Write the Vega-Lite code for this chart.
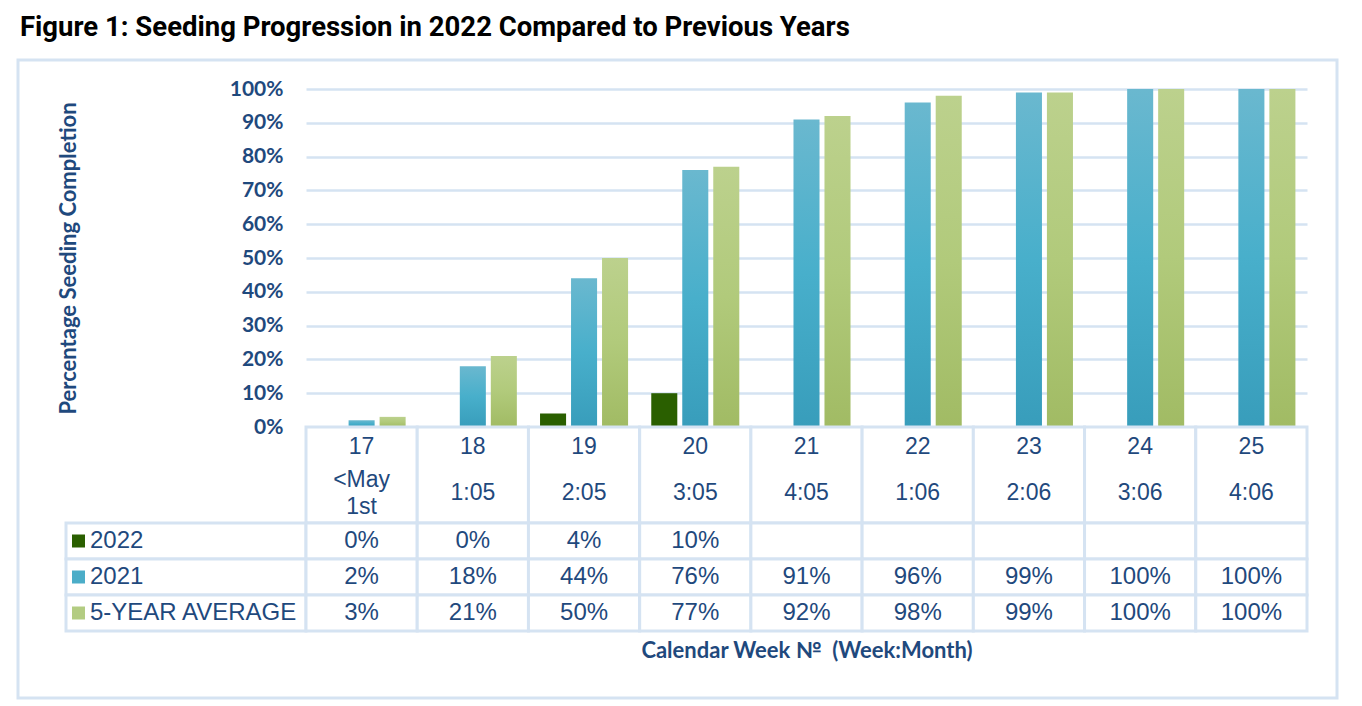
{
  "$schema": "https://vega.github.io/schema/vega-lite/v6.json",
  "background": "white",
  "padding": {"left": 18, "top": 13, "right": 10, "bottom": 5},
  "title": {
    "text": "Figure 1: Seeding Progression in 2022 Compared to Previous Years",
    "anchor": "start",
    "frame": "group",
    "dx": -46,
    "offset": 19,
    "font": "Roboto",
    "fontSize": 27.5,
    "fontWeight": "bold",
    "color": "#000000"
  },
  "datasets": {
    "seeding": [
      {"week": "17", "period": "<May\n1st", "series": "2022", "value": 0},
      {"week": "18", "period": "1:05", "series": "2022", "value": 0},
      {"week": "19", "period": "2:05", "series": "2022", "value": 0.04},
      {"week": "20", "period": "3:05", "series": "2022", "value": 0.10},
      {"week": "21", "period": "4:05", "series": "2022", "value": null},
      {"week": "22", "period": "1:06", "series": "2022", "value": null},
      {"week": "23", "period": "2:06", "series": "2022", "value": null},
      {"week": "24", "period": "3:06", "series": "2022", "value": null},
      {"week": "25", "period": "4:06", "series": "2022", "value": null},
      {"week": "17", "period": "<May\n1st", "series": "2021", "value": 0.02},
      {"week": "18", "period": "1:05", "series": "2021", "value": 0.18},
      {"week": "19", "period": "2:05", "series": "2021", "value": 0.44},
      {"week": "20", "period": "3:05", "series": "2021", "value": 0.76},
      {"week": "21", "period": "4:05", "series": "2021", "value": 0.91},
      {"week": "22", "period": "1:06", "series": "2021", "value": 0.96},
      {"week": "23", "period": "2:06", "series": "2021", "value": 0.99},
      {"week": "24", "period": "3:06", "series": "2021", "value": 1.0},
      {"week": "25", "period": "4:06", "series": "2021", "value": 1.0},
      {"week": "17", "period": "<May\n1st", "series": "5-YEAR AVERAGE", "value": 0.03},
      {"week": "18", "period": "1:05", "series": "5-YEAR AVERAGE", "value": 0.21},
      {"week": "19", "period": "2:05", "series": "5-YEAR AVERAGE", "value": 0.50},
      {"week": "20", "period": "3:05", "series": "5-YEAR AVERAGE", "value": 0.77},
      {"week": "21", "period": "4:05", "series": "5-YEAR AVERAGE", "value": 0.92},
      {"week": "22", "period": "1:06", "series": "5-YEAR AVERAGE", "value": 0.98},
      {"week": "23", "period": "2:06", "series": "5-YEAR AVERAGE", "value": 0.99},
      {"week": "24", "period": "3:06", "series": "5-YEAR AVERAGE", "value": 1.0},
      {"week": "25", "period": "4:06", "series": "5-YEAR AVERAGE", "value": 1.0}
    ],
    "series": [
      {"series": "2022"},
      {"series": "2021"},
      {"series": "5-YEAR AVERAGE"}
    ]
  },
  "columns": 2,
  "spacing": 0,
  "bounds": "flush",
  "concat": [
    {
      "width": 240,
      "height": 338,
      "data": {"values": [{"frame": 0}, {"frame": 1}]},
      "mark": {"type": "point", "opacity": 0},
      "encoding": {
        "color": {
          "field": "frame",
          "type": "quantitative",
          "scale": {"domain": [0, 1], "range": ["rgba(255,255,255,0)", "rgba(255,255,255,0)"]},
          "legend": {
            "orient": "none",
            "legendX": -48,
            "legendY": -29,
            "direction": "vertical",
            "title": null,
            "padding": 0,
            "gradientLength": 638,
            "gradientThickness": 1319,
            "gradientStrokeColor": "#D5E3F2",
            "gradientStrokeWidth": 3,
            "values": [],
            "labelOpacity": 0,
            "labelFontSize": 1,
            "labelOffset": 0
          }
        }
      }
    },
    {
      "width": 1001,
      "height": 338,
      "data": {"name": "seeding"},
      "encoding": {
        "x": {"field": "week", "type": "nominal", "scale": {"paddingInner": 0, "paddingOuter": 0}, "axis": null},
        "xOffset": {"field": "series", "type": "nominal", "scale": {"domain": ["2022", "2021", "5-YEAR AVERAGE"], "paddingInner": 0.16, "paddingOuter": 0.374}},
        "y": {
          "field": "value",
          "type": "quantitative",
          "scale": {"domain": [0, 1], "nice": false},
          "axis": {
            "values": [0, 0.1, 0.2, 0.3, 0.4, 0.5, 0.6, 0.7, 0.8, 0.9, 1.0],
            "format": ".0%",
            "title": "Percentage Seeding Completion",
            "grid": true,
            "gridColor": "#D5E3F2",
            "gridWidth": 2.5,
            "domain": false,
            "ticks": false,
            "labelPadding": 23,
            "labelFont": "Lato",
            "labelFontSize": 21,
            "labelFontWeight": "bold",
            "labelColor": "#1F497D",
            "titleFont": "Lato",
            "titleFontSize": 22,
            "titleFontWeight": "bold",
            "titleColor": "#1F497D",
            "titlePadding": 149
          }
        }
      },
      "layer": [
        {
          "transform": [{"filter": "datum.series === '2022'"}],
          "mark": {"type": "bar", "color": "#2A5F00"}
        },
        {
          "transform": [{"filter": "datum.series === '2021'"}],
          "mark": {
            "type": "bar",
            "color": {"gradient": "linear", "x1": 0, "y1": 0, "x2": 0, "y2": 1, "stops": [
              {"offset": 0, "color": "#6AB8CF"},
              {"offset": 0.5, "color": "#48AFCB"},
              {"offset": 1, "color": "#389DBB"}
            ]}
          }
        },
        {
          "transform": [{"filter": "datum.series === '5-YEAR AVERAGE'"}],
          "mark": {
            "type": "bar",
            "color": {"gradient": "linear", "x1": 0, "y1": 0, "x2": 0, "y2": 1, "stops": [
              {"offset": 0, "color": "#BCD18D"},
              {"offset": 0.5, "color": "#B1CA7B"},
              {"offset": 1, "color": "#A1BB64"}
            ]}
          }
        }
      ]
    },
    {
      "width": 240,
      "height": 96,
      "data": {"values": []},
      "mark": {"type": "point", "opacity": 0},
      "encoding": {}
    },
    {
      "width": 1001,
      "height": 96,
      "data": {"name": "seeding"},
      "transform": [{"filter": "datum.series === '2021'"}],
      "encoding": {
        "x": {"field": "week", "type": "nominal", "scale": {"paddingInner": 0, "paddingOuter": 0}, "axis": null}
      },
      "layer": [
        {"mark": {"type": "rect", "fill": "white", "stroke": "#D5E3F2", "strokeWidth": 3}},
        {
          "mark": {"type": "text", "font": "Liberation Sans", "fontSize": 23, "color": "#1F497D"},
          "encoding": {
            "text": {"field": "week"},
            "y": {"datum": "week", "type": "nominal", "scale": {"type": "point", "domain": ["week", "period"], "padding": 0.543, "align": 0.4}, "axis": null}
          }
        },
        {
          "transform": [{"filter": "indexof(datum.period, '\\n') < 0"}],
          "mark": {"type": "text", "font": "Liberation Sans", "fontSize": 23, "color": "#1F497D"},
          "encoding": {
            "text": {"field": "period"},
            "y": {"datum": "period", "type": "nominal"}
          }
        },
        {
          "transform": [{"filter": "indexof(datum.period, '\\n') >= 0"}],
          "mark": {"type": "text", "font": "Liberation Sans", "fontSize": 23, "color": "#1F497D", "lineBreak": "\n", "lineHeight": 27, "dy": -13.5},
          "encoding": {
            "text": {"field": "period"},
            "y": {"datum": "period", "type": "nominal"}
          }
        }
      ]
    },
    {
      "width": 240,
      "height": 108,
      "data": {"name": "series"},
      "encoding": {
        "y": {"field": "series", "type": "nominal", "scale": {"domain": ["2022", "2021", "5-YEAR AVERAGE"], "paddingInner": 0, "paddingOuter": 0}, "axis": null}
      },
      "layer": [
        {"mark": {"type": "rect", "fill": "white", "stroke": "#D5E3F2", "strokeWidth": 3}},
        {
          "mark": {"type": "point", "shape": "square", "filled": true, "size": 169, "opacity": 1, "strokeWidth": 0},
          "encoding": {
            "x": {"datum": "cell", "type": "nominal", "bandPosition": 0.052, "scale": {"type": "band", "domain": ["cell"], "paddingInner": 0, "paddingOuter": 0}, "axis": null},
            "color": {
              "field": "series",
              "type": "nominal",
              "scale": {"domain": ["2022", "2021", "5-YEAR AVERAGE"], "range": ["#2A5F00", "#4BADC8", "#B3CC82"]},
              "legend": null
            }
          }
        },
        {
          "mark": {"type": "text", "align": "left", "font": "Liberation Sans", "fontSize": 24, "color": "#1F497D"},
          "encoding": {
            "x": {"datum": "cell", "type": "nominal", "bandPosition": 0.1},
            "text": {"field": "series"}
          }
        }
      ]
    },
    {
      "width": 1001,
      "height": 108,
      "data": {"name": "seeding"},
      "encoding": {
        "x": {
          "field": "week",
          "type": "nominal",
          "scale": {"paddingInner": 0, "paddingOuter": 0},
          "axis": {
            "title": "Calendar Week №\u00a0 (Week:Month)",
            "labels": false,
            "ticks": false,
            "domain": false,
            "grid": false,
            "titleFont": "Lato",
            "titleFontSize": 22,
            "titleFontWeight": "bold",
            "titleColor": "#1F497D",
            "titlePadding": 9
          }
        },
        "y": {"field": "series", "type": "nominal", "scale": {"domain": ["2022", "2021", "5-YEAR AVERAGE"], "paddingInner": 0, "paddingOuter": 0}, "axis": null}
      },
      "layer": [
        {"mark": {"type": "rect", "fill": "white", "stroke": "#D5E3F2", "strokeWidth": 3}},
        {
          "transform": [{"filter": "isValid(datum.value)"}],
          "mark": {"type": "text", "font": "Liberation Sans", "fontSize": 24, "color": "#1F497D"},
          "encoding": {"text": {"field": "value", "type": "quantitative", "format": ".0%"}}
        }
      ]
    }
  ],
  "config": {
    "view": {"stroke": null}
  }
}
